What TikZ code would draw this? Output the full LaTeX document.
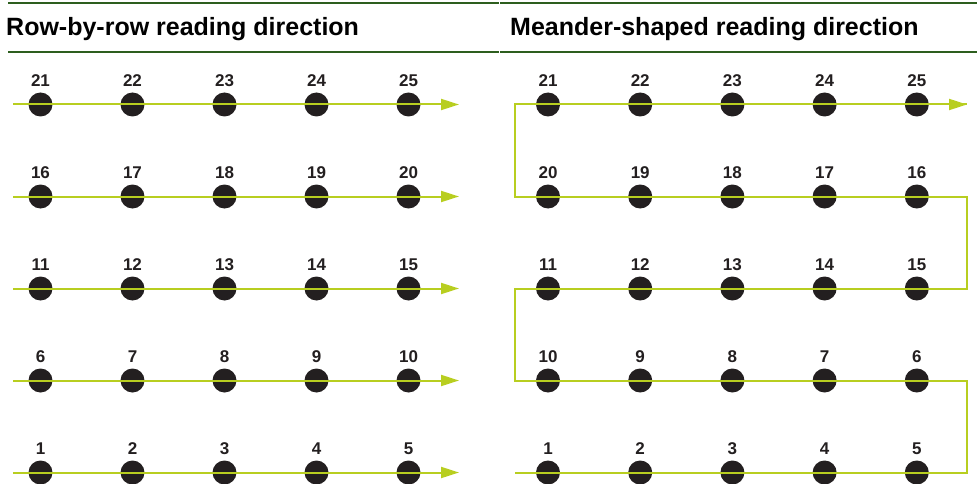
\documentclass[tikz,border=0pt]{standalone}
\usepackage{fontspec}
\setmainfont{Liberation Sans}
\usetikzlibrary{arrows.meta}
\definecolor{rulegreen}{RGB}{45,94,30}
\definecolor{pathgreen}{RGB}{184,206,32}
\definecolor{dotblack}{RGB}{35,31,32}
\tikzset{
	dot/.style={circle,fill=dotblack,inner sep=0pt,minimum size=24pt},
	num/.style={inner sep=0pt,text depth=0pt,text height=12.3pt,text=dotblack,font=\fontsize{17}{17}\selectfont\bfseries},
	title/.style={anchor=base west,inner sep=0pt,font=\fontsize{25}{25}\selectfont\bfseries},
	headrule/.style={rulegreen,line width=2pt},
	readpath/.style={pathgreen,line width=2pt,-{Triangle[length=18pt,width=11pt]}},
	meander/.style={pathgreen,line width=2pt}
}
\begin{document}
\begin{tikzpicture}[x=1pt,y=-1pt]
				\useasboundingbox (0,0) rectangle (977,484);
				% header rules and titles
				\draw [headrule] (8,3) -- (498.5,3);
				\draw [headrule] (500,3) -- (977,3);
				\draw [headrule] (8,52) -- (498.5,52);
				\draw [headrule] (500,52) -- (977,52);
				\node [title] (tleft) at (6,36) {Row-by-row reading direction};
				\node [title] (tright) at (510,36) {Meander-shaped reading direction};
				% dots, left: row by row
				\foreach \r in {0,...,4}
					\foreach \c in {1,...,5} {
						\pgfmathtruncatemacro{\n}{5*\r+\c}
						\node [dot,label={[num,label distance=6pt]above:\n}] (l\n) at ({40.5+92*(\c-1)},{472.5-92*\r}) {};
					}
				% dots, right: meander
				\foreach \r in {0,...,4}
					\foreach \c in {1,...,5} {
						\pgfmathtruncatemacro{\n}{isodd(\r) ? 5*\r+6-\c : 5*\r+\c}
						\node [dot,label={[num,label distance=6pt]above:\n}] (m\n) at ({548+92.2*(\c-1)},{472.5-92*\r}) {};
					}
				\coordinate (lstart) at (13,0);
				\coordinate (lend) at (459,0);
				\coordinate (mleft) at (515,0);
				\coordinate (mright) at (967,0);
				% reading paths
				\foreach \n in {1,6,11,16,21}
					\draw [readpath] (l\n -| lstart) -- (l\n -| lend);
				\draw [meander] (m1 -| mleft) -- (m5 -| mright) -- (m6 -| mright) -- (m10 -| mleft)
					-- (m11 -| mleft) -- (m15 -| mright) -- (m16 -| mright) -- (m20 -| mleft)
					-- (m21 -| mleft) -- (m25 -| mright);
				\draw [readpath] (m24) -- (m25 -| mright);
			\end{tikzpicture}
\end{document}
